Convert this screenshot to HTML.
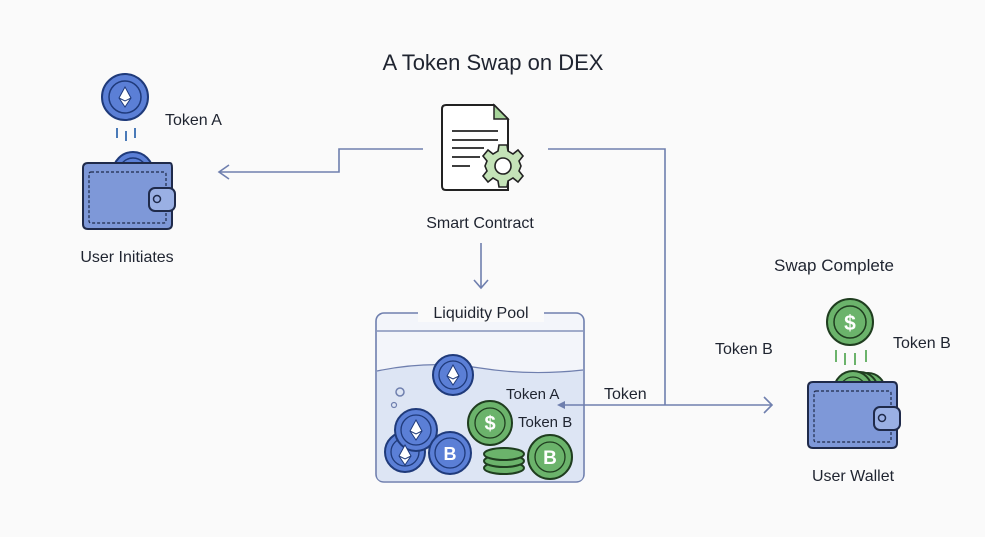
<!DOCTYPE html>
<html><head><meta charset="utf-8"><style>
html,body{margin:0;padding:0;background:#fafafa;}
svg{display:block;}
text{font-family:"Liberation Sans",sans-serif;fill:#1f2430;}
</style></head><body>
<svg width="985" height="537" viewBox="0 0 985 537" xmlns="http://www.w3.org/2000/svg">
<defs>
<g id="eth"><path d="M0,-10 L6,1 L0,10 L-6,1 Z" fill="#fff" stroke="#1f3a7a" stroke-width="1"/><path d="M-6,1 L0,4 L6,1" fill="none" stroke="#1f3a7a" stroke-width="1"/></g>
</defs>
<rect width="985" height="537" fill="#fafafa"/>
<text x="493" y="70" font-size="22" text-anchor="middle">A Token Swap on DEX</text>

<!-- left coin -->
<circle cx="125" cy="97" r="23" fill="#5b7fd6" stroke="#1f3a7a" stroke-width="2"/>
<circle cx="125" cy="97" r="16" fill="none" stroke="#1f3a7a" stroke-width="1.5"/>
<use href="#eth" x="125" y="97"/>
<text x="165" y="125" font-size="16">Token A</text>
<g stroke="#4a7ab8" stroke-width="2"><line x1="117" y1="128" x2="117" y2="138"/><line x1="126" y1="131" x2="126" y2="141"/><line x1="135" y1="128" x2="135" y2="138"/></g>
<!-- left wallet -->
<circle cx="133" cy="172" r="20" fill="#5b7fd6" stroke="#1f3a7a" stroke-width="2"/>
<circle cx="133" cy="172" r="14" fill="none" stroke="#1f3a7a" stroke-width="1.5"/>
<path d="M88,163 H170 Q172,163 172,168 V224 Q172,229 167,229 H88 Q83,229 83,224 V168 Q83,163 88,163 Z" fill="#7e98d8" stroke="#1f2a4a" stroke-width="2"/>
<rect x="89" y="172" width="77" height="51" rx="2" fill="none" stroke="#1f2a4a" stroke-width="1.2" stroke-dasharray="3,2"/>
<rect x="149" y="188" width="26" height="23" rx="6" fill="#9ab0e4" stroke="#1f2a4a" stroke-width="2"/>
<circle cx="157" cy="199" r="3.5" fill="none" stroke="#1f2a4a" stroke-width="1.5"/>
<text x="127" y="262" font-size="16" text-anchor="middle">User Initiates</text>

<!-- document -->
<path d="M446,105 H494 L508,119 V190 H446 Q442,190 442,186 V109 Q442,105 446,105 Z" fill="#fff" stroke="#222" stroke-width="2"/>
<path d="M494,105 V119 H508 Z" fill="#a6d49a" stroke="#222" stroke-width="1.5"/>
<g stroke="#222" stroke-width="1.8"><line x1="452" y1="131" x2="498" y2="131"/><line x1="452" y1="140" x2="498" y2="140"/><line x1="452" y1="148" x2="484" y2="148"/><line x1="452" y1="157" x2="480" y2="157"/><line x1="452" y1="166" x2="470" y2="166"/></g>
<g transform="translate(503,166)">
<path d="M-4,-21 H4 L5,-15 L10,-12 L15,-16 L20,-10 L16,-5 L18,0 L16,5 L20,10 L15,16 L10,12 L5,15 L4,21 H-4 L-5,15 L-10,12 L-15,16 L-20,10 L-16,5 L-18,0 L-16,-5 L-20,-10 L-15,-16 L-10,-12 L-5,-15 Z" fill="#c4e3b8" stroke="#222" stroke-width="1.6"/>
<circle r="8" fill="#fff" stroke="#222" stroke-width="1.6"/>
</g>
<text x="480" y="228" font-size="16" text-anchor="middle">Smart Contract</text>

<!-- pool -->
<rect x="376" y="313" width="208" height="169" rx="8" fill="#f3f5fa" stroke="#6f7fae" stroke-width="1.6"/>
<path d="M377,371 Q430,360 480,368 Q530,376 583,370 V475 Q583,481 577,481 H383 Q377,481 377,475 Z" fill="#dde5f4"/>
<path d="M377,371 Q430,360 480,368 Q530,376 583,370" fill="none" stroke="#6f7fae" stroke-width="1.2"/>
<line x1="377" y1="331" x2="583" y2="331" stroke="#6f7fae" stroke-width="1.2"/>
<rect x="418" y="302" width="126" height="20" fill="#fafafa"/>
<text x="481" y="318" font-size="16" text-anchor="middle">Liquidity Pool</text>
<circle cx="400" cy="392" r="4" fill="none" stroke="#6f7fae" stroke-width="1.5"/>
<circle cx="394" cy="405" r="2.5" fill="none" stroke="#6f7fae" stroke-width="1.2"/>
<g stroke="#1f3a7a" stroke-width="2">
<circle cx="453" cy="375" r="20" fill="#5b7fd6"/><circle cx="453" cy="375" r="14" fill="none" stroke-width="1.3"/>
<circle cx="405" cy="452" r="20" fill="#5b7fd6"/><circle cx="405" cy="452" r="14" fill="none" stroke-width="1.3"/>
<circle cx="416" cy="430" r="21" fill="#5b7fd6"/><circle cx="416" cy="430" r="15" fill="none" stroke-width="1.3"/>
<circle cx="450" cy="453" r="21" fill="#5b7fd6"/><circle cx="450" cy="453" r="15" fill="none" stroke-width="1.3"/>
</g>
<use href="#eth" x="453" y="375"/><use href="#eth" x="405" y="455"/><use href="#eth" x="416" y="430"/>
<text x="450" y="460" font-size="18" font-weight="bold" text-anchor="middle" style="fill:#fff">B</text>
<g stroke="#1f3d1f" stroke-width="2">
<circle cx="490" cy="423" r="22" fill="#6bb36b"/><circle cx="490" cy="423" r="15" fill="none" stroke-width="1.3"/>
<ellipse cx="504" cy="468" rx="20" ry="6" fill="#6bb36b"/><ellipse cx="504" cy="461" rx="20" ry="6" fill="#6bb36b"/><ellipse cx="504" cy="454" rx="20" ry="6" fill="#6bb36b"/>
<circle cx="550" cy="457" r="22" fill="#6bb36b"/><circle cx="550" cy="457" r="15" fill="none" stroke-width="1.3"/>
</g>
<text x="490" y="430" font-size="20" font-weight="bold" text-anchor="middle" style="fill:#fff">$</text>
<text x="550" y="464" font-size="19" font-weight="bold" text-anchor="middle" style="fill:#fff">B</text>
<text x="506" y="399" font-size="15">Token A</text>
<text x="518" y="427" font-size="15">Token B</text>

<!-- connectors -->
<g stroke="#6f7fae" stroke-width="1.6" fill="none">
<polyline points="423,149 339,149 339,172 219,172"/>
<polyline points="229,165 219,172 229,179"/>
<polyline points="548,149 665,149 665,405"/>
<line x1="481" y1="243" x2="481" y2="288"/>
<polyline points="474,280 481,288 488,280"/>
<line x1="560" y1="405" x2="772" y2="405"/>
<polyline points="764,397 772,405 764,413"/>
</g>
<path d="M557,405 L565,401 L565,409 Z" fill="#6f7fae"/>
<text x="604" y="399" font-size="16">Token</text>

<!-- right -->
<text x="834" y="271" font-size="17" text-anchor="middle">Swap Complete</text>
<text x="715" y="354" font-size="16">Token B</text>
<text x="893" y="348" font-size="16">Token B</text>
<circle cx="850" cy="322" r="23" fill="#6bb36b" stroke="#1f3d1f" stroke-width="2"/>
<circle cx="850" cy="322" r="16" fill="none" stroke="#1f3d1f" stroke-width="1.5"/>
<text x="850" y="330" font-size="21" font-weight="bold" text-anchor="middle" style="fill:#fff">$</text>
<g stroke="#6bb36b" stroke-width="2"><line x1="836" y1="350" x2="836" y2="362"/><line x1="845" y1="353" x2="845" y2="365"/><line x1="855" y1="353" x2="855" y2="365"/><line x1="866" y1="350" x2="866" y2="362"/></g>
<circle cx="868" cy="390" r="17" fill="#6bb36b" stroke="#1f3d1f" stroke-width="2"/>
<circle cx="860" cy="390" r="18" fill="#6bb36b" stroke="#1f3d1f" stroke-width="2"/>
<circle cx="853" cy="390" r="19" fill="#6bb36b" stroke="#1f3d1f" stroke-width="2"/>
<circle cx="853" cy="390" r="13" fill="none" stroke="#1f3d1f" stroke-width="1.3"/>
<path d="M813,382 H893 Q897,382 897,387 V443 Q897,448 892,448 H813 Q808,448 808,443 V387 Q808,382 813,382 Z" fill="#7e98d8" stroke="#1f2a4a" stroke-width="2"/>
<rect x="814" y="391" width="77" height="51" rx="2" fill="none" stroke="#1f2a4a" stroke-width="1.2" stroke-dasharray="3,2"/>
<rect x="874" y="407" width="26" height="23" rx="6" fill="#9ab0e4" stroke="#1f2a4a" stroke-width="2"/>
<circle cx="882" cy="418" r="3.5" fill="none" stroke="#1f2a4a" stroke-width="1.5"/>
<text x="853" y="481" font-size="16" text-anchor="middle">User Wallet</text>
</svg>
</body></html>
